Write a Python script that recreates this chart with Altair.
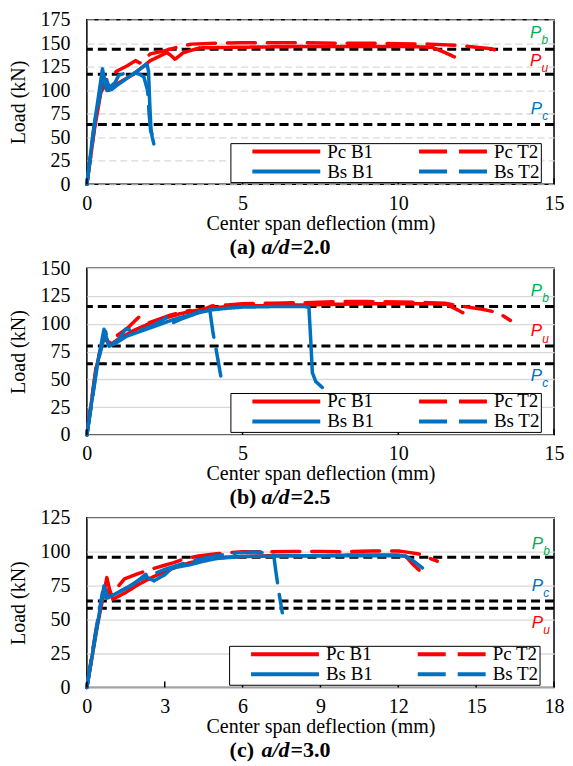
import altair as alt
import pandas as pd

FONT = "Liberation Serif"
PFONT = "Liberation Sans"
NBSP = "\u00a0"

SERIES = ["Pc B1", "Pc T2", "Bs B1", "Bs T2"]
SERIES_COLORS = ["#FF0000", "#FF0000", "#0070C0", "#0070C0"]
SERIES_DASHES = [[1, 0], [28, 12], [1, 0], [28, 12]]

REF_SUBS = ["b", "u", "c"]
REF_COLORS = {"b": "#00B050", "u": "#FF0000", "c": "#0070C0"}

# ---------------- (a) a/d = 2.0 ----------------
A_PC_B1_X = [0, 0.25, 0.45, 0.6, 0.7, 0.97, 1.5, 2.04, 2.57, 2.7, 2.83, 3.1, 3.63, 4.5, 5.65, 7, 8.5, 10, 10.8, 11.1, 11.5, 11.8]
A_PC_B1_Y = [0, 60, 98, 106, 100, 106.8, 117, 131.5, 140, 137, 133, 140, 145, 145.5, 146, 146.5, 146.5, 146.5, 146, 145.5, 140, 135.5]
A_PC_T2_X = [0, 0.3, 0.5, 0.65, 0.82, 1.0, 1.3, 1.56, 1.7, 2.04, 2.5, 2.89, 3.36, 4.2, 5, 6, 7, 8, 9, 10, 11, 12, 12.5, 13.0, 13.45]
A_PC_T2_Y = [0, 75, 107, 112, 117, 121, 126, 131.5, 129, 138.6, 142, 145.6, 149, 150, 150.5, 150.5, 150.5, 150, 150, 149.5, 149, 147.5, 145.6, 144, 139]
A_BS_B1_X = [0, 0.2, 0.38, 0.5, 0.58, 0.64, 0.8, 1.0, 1.3, 1.6, 1.85, 1.93, 1.98, 2.02, 2.06, 2.1, 2.15]
A_BS_B1_Y = [0, 55, 95, 122.7, 110, 99.7, 101, 106, 113, 120, 126, 128, 120, 85, 58, 50, 43]
A_BS_T2_X = [0, 0.25, 0.45, 0.55, 0.62, 0.72, 0.9, 1.03, 1.3, 1.5, 1.7, 1.83, 1.95, 2.0, 2.05, 2.15, 2.36]
A_BS_T2_Y = [0, 65, 100, 118, 112, 103, 108, 116, 119, 118.5, 117, 114, 100, 75, 56, 50, 45]
A_REF_LOAD = [143.5, 117, 63.5]
A_LABEL_X = [14.23, 14.23, 14.25]
A_LABEL_Y = [156, 126, 75]
A_X_TICKS = [0, 5, 10, 15]
A_Y_TICKS = [0, 25, 50, 75, 100, 125, 150, 175]

# ---------------- (b) a/d = 2.5 ----------------
B_PC_B1_X = [0, 0.3, 0.55, 0.68, 0.8, 1.0, 1.5, 2.0, 2.5, 3.0, 3.5, 4.0, 5, 6, 7, 8, 9, 10, 11, 11.54, 11.8, 12.07]
B_PC_B1_Y = [0, 60, 90, 84, 82, 86, 94, 100, 105, 109, 112, 114.5, 116, 116.5, 117, 117.5, 118, 118, 118, 117.6, 114, 110]
B_PC_T2_X = [0, 0.3, 0.55, 0.7, 1.0, 1.3, 1.67, 1.8, 2.0, 2.3, 2.7, 3.0, 3.3, 3.5, 4.0, 4.5, 5, 6, 7, 8, 9, 10, 11, 11.5, 12.0, 12.7, 13.2, 13.6]
B_PC_T2_Y = [0, 62, 88, 82, 90, 96, 106, 104, 101, 104, 108, 110, 112, 110, 116, 117, 118, 118.5, 119, 120, 120, 119.5, 119, 118.5, 116, 113, 110, 103]
B_BS_B1_X = [0, 0.3, 0.55, 0.71, 0.9, 1.29, 1.6, 2.0, 2.5, 2.8, 3.2, 3.6, 4.0, 4.5, 5, 6, 7.0, 7.13, 7.18, 7.24, 7.35, 7.56]
B_BS_B1_Y = [0, 58, 95, 80, 82, 89, 92, 96, 101, 104, 107, 110, 112.5, 114, 115, 115.5, 115.5, 114.7, 90, 56, 48, 42.7]
B_BS_T2_X = [0, 0.35, 0.6, 0.72, 1.0, 1.24, 1.6, 1.8, 2.09, 2.4, 2.57, 2.67, 3.0, 3.4, 3.84, 3.95, 4.05, 4.15, 4.3]
B_BS_T2_Y = [0, 65, 93, 80, 85, 95, 94, 95, 98, 103, 105.7, 99.6, 104, 108, 114.7, 112, 92, 77, 53]
B_REF_LOAD = [115.5, 80, 64]
B_LABEL_X = [14.25, 14.25, 14.25]
B_LABEL_Y = [125, 88.6, 48.6]
B_X_TICKS = [0, 5, 10, 15]
B_Y_TICKS = [0, 25, 50, 75, 100, 125, 150]

# ---------------- (c) a/d = 3.0 ----------------
C_PC_B1_X = [0, 0.4, 0.7, 0.77, 0.87, 1.0, 1.5, 2.0, 2.5, 3.0, 3.5, 4.0, 4.5, 5, 6, 7, 8, 9, 10, 11, 12, 12.3, 12.55, 12.8]
C_PC_B1_Y = [0, 45, 74, 80.9, 72.5, 65, 70, 76, 81, 85.5, 89, 92, 94, 95.5, 96.5, 97, 97, 97, 97.5, 97.5, 97.5, 96.5, 91, 86.5]
C_PC_T2_X = [0, 0.35, 0.6, 0.75, 0.9, 1.1, 1.45, 2.0, 2.46, 3.0, 3.35, 3.8, 4.3, 5.0, 5.44, 6, 7, 8, 9, 10, 11, 12, 12.4, 12.8, 13.1, 13.5]
C_PC_T2_Y = [0, 42, 66, 72, 68, 72, 80, 84, 87, 90, 92, 95, 96.8, 98.5, 99.3, 100, 100, 100.2, 100.2, 100, 100.5, 100.5, 99.5, 98.3, 96, 93]
C_BS_B1_X = [0, 0.35, 0.66, 0.81, 1.2, 1.8, 2.27, 2.33, 2.59, 3.0, 3.28, 4.0, 4.5, 5, 6, 7, 8, 9, 10, 11, 12, 12.29, 12.6, 12.93]
C_BS_B1_Y = [0, 40, 74.8, 66, 70, 76, 83.4, 81, 78.5, 83, 88, 90.5, 93, 95, 96.5, 96.7, 97, 97, 97, 97, 97, 96.8, 93, 88]
C_BS_T2_X = [0, 0.35, 0.6, 0.75, 1.0, 1.5, 2.0, 3.0, 4.0, 5.0, 5.5, 6.0, 6.5, 7.0, 7.2, 7.28, 7.4, 7.53]
C_BS_T2_Y = [0, 42, 70, 66, 68, 73, 79, 87, 93, 97, 98.5, 99.5, 99.8, 99, 97.5, 85.8, 70, 55]
C_REF_LOAD = [96, 63.7, 58.4]
C_LABEL_SUBS = ["b", "c", "u"]
C_LABEL_X = [17.14, 17.14, 17.14]
C_LABEL_Y = [102.2, 71.1, 44.1]
C_X_TICKS = [0, 3, 6, 9, 12, 15, 18]
C_Y_TICKS = [0, 25, 50, 75, 100, 125]

W = 468

AXIS_TEXT = dict(
    labelFont=FONT, labelFontSize=20, labelColor="black",
    titleFont=FONT, titleFontSize=20, titleFontWeight="normal", titleColor="black",
    ticks=False, domain=False, labelOverlap=False, labelFlush=False,
)


def make_legend(lx, ly):
    pad = NBSP * 7
    return alt.Legend(
        orient="none", legendX=lx, legendY=ly, columns=2, direction="horizontal",
        title=None, symbolType="stroke", symbolSize=4624, symbolStrokeWidth=4,
        clipHeight=16, rowPadding=1, columnPadding=23,
        labelFont=FONT, labelFontSize=19, labelColor="black",
        padding=0.5, strokeColor="black", fillColor="white",
        symbolOffset=19.5, labelOffset=5, zindex=1, labelLimit=300,
        labelExpr=f"indexof(datum.label, 'T2') >= 0 ? datum.label + '{pad}' : datum.label",
    )


def panel(curves, ref_loads, label_subs, label_x, label_y, xticks, yticks, h,
          cap_letter, cap_value, cap_y, legend_xy, grid_dash):
    xs = alt.Scale(domain=[xticks[0], xticks[-1]], nice=False, padding=0)
    ys = alt.Scale(domain=[yticks[0], yticks[-1]], nice=False, padding=0)
    rows = []
    for name, (xv, yv) in zip(SERIES, curves):
        for i, (a, b) in enumerate(zip(xv, yv)):
            rows.append({"series": name, "i": i, "d": a, "load": b})
    df = pd.DataFrame(rows)

    xaxis = alt.Axis(values=xticks, title="Center span deflection (mm)", grid=False,
                     labelPadding=9, titlePadding=0, **AXIS_TEXT)
    ykw = dict(values=yticks, title="Load (kN)", grid=True, gridColor="#d9d9d9",
               gridWidth=1.3, labelPadding=17, titlePadding=11, **AXIS_TEXT)
    if grid_dash:
        ykw["gridDash"] = grid_dash
    yaxis = alt.Axis(**ykw)

    X = lambda: alt.X("d:Q", scale=xs, axis=xaxis)
    Y = lambda: alt.Y("load:Q", scale=ys, axis=yaxis)

    leg = make_legend(*legend_xy)

    refs = alt.Chart(pd.DataFrame({"load": ref_loads})).mark_rule(
        color="black", strokeWidth=3, strokeDash=[9, 5]
    ).encode(y=Y())

    lines = alt.Chart(df).mark_line(strokeWidth=3.5, strokeCap="round", strokeJoin="round").encode(
        x=X(),
        y=Y(),
        color=alt.Color("series:N", scale=alt.Scale(domain=SERIES, range=SERIES_COLORS), legend=leg),
        strokeDash=alt.StrokeDash("series:N", scale=alt.Scale(domain=SERIES, range=SERIES_DASHES), legend=leg),
        order=alt.Order("i:Q"),
    )

    layers = [refs, lines]

    # inside tick marks on the x axis
    ticks = alt.Chart(pd.DataFrame({"d": xticks})).mark_rule(color="black", strokeWidth=1.5).encode(
        x=X(), y=alt.value(h), y2=alt.value(h - 6)
    )
    layers.append(ticks)

    for sub, lx, ly in zip(label_subs, label_x, label_y):
        col = REF_COLORS[sub]
        ldf = pd.DataFrame({"d": [lx], "load": [ly]})
        layers.append(alt.Chart(ldf).mark_text(
            text="P", font=PFONT, fontSize=17, fontStyle="italic", color=col,
            align="left", baseline="alphabetic"
        ).encode(x=X(), y=Y()))
        layers.append(alt.Chart(ldf).mark_text(
            text=sub, font=PFONT, fontSize=12, fontStyle="italic", color=col,
            align="left", baseline="alphabetic", dx=11.5, dy=6.3
        ).encode(x=X(), y=Y()))

    cap_df = pd.DataFrame({"t": [0]})
    layers.append(alt.Chart(cap_df).mark_text(
        text=f"({cap_letter})", font=FONT, fontSize=22, fontWeight="bold", color="black",
        align="left", baseline="alphabetic").encode(x=alt.value(143), y=alt.value(cap_y)))
    layers.append(alt.Chart(cap_df).mark_text(
        text="a/d", font=FONT, fontSize=22, fontWeight="bold", fontStyle="italic", color="black",
        align="left", baseline="alphabetic").encode(x=alt.value(175), y=alt.value(cap_y)))
    layers.append(alt.Chart(cap_df).mark_text(
        text=f"={cap_value}", font=FONT, fontSize=22, fontWeight="bold", color="black",
        align="left", baseline="alphabetic").encode(x=alt.value(204), y=alt.value(cap_y)))

    return alt.layer(*layers).properties(width=W, height=h)


pa = panel(
    [(A_PC_B1_X, A_PC_B1_Y), (A_PC_T2_X, A_PC_T2_Y), (A_BS_B1_X, A_BS_B1_Y), (A_BS_T2_X, A_BS_T2_Y)],
    A_REF_LOAD, REF_SUBS, A_LABEL_X, A_LABEL_Y, A_X_TICKS, A_Y_TICKS, 165,
    "a", "2.0", 235, (143.8, 123.7), [7, 4])
pb = panel(
    [(B_PC_B1_X, B_PC_B1_Y), (B_PC_T2_X, B_PC_T2_Y), (B_BS_B1_X, B_BS_B1_Y), (B_BS_T2_X, B_BS_T2_Y)],
    B_REF_LOAD, REF_SUBS, B_LABEL_X, B_LABEL_Y, B_X_TICKS, B_Y_TICKS, 167,
    "b", "2.5", 236, (143.8, 125), None)
pc = panel(
    [(C_PC_B1_X, C_PC_B1_Y), (C_PC_T2_X, C_PC_T2_Y), (C_BS_B1_X, C_BS_B1_Y), (C_BS_T2_X, C_BS_T2_Y)],
    C_REF_LOAD, C_LABEL_SUBS, C_LABEL_X, C_LABEL_Y, C_X_TICKS, C_Y_TICKS, 170,
    "c", "3.0", 240, (142.5, 128.3), None)

chart = alt.vconcat(pa, pb, pc, spacing=-2).resolve_scale(
    x="independent", y="independent", color="independent", strokeDash="independent"
).resolve_legend(color="independent", strokeDash="independent").properties(
    padding={"left": 0, "top": 0, "right": 0, "bottom": 0}
).configure_view(
    stroke="black", strokeWidth=1.5
).configure_axis(**AXIS_TEXT)

chart.save("out.html", embed_options={"renderer": "svg", "actions": False})
